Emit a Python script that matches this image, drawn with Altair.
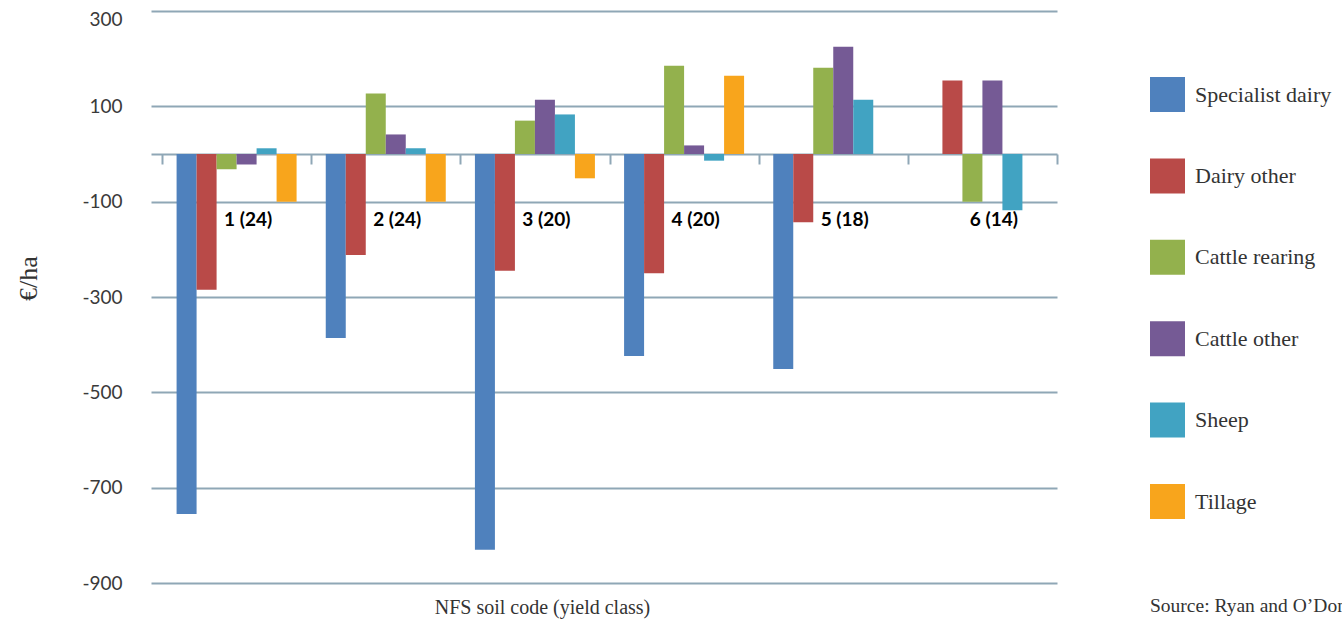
import altair as alt
import pandas as pd

# Soil code (number of yield class) categories along the x axis
soil_codes = ["1 (24)", "2 (24)", "3 (20)", "4 (20)", "5 (18)", "6 (14)"]

# Farm systems, in drawing / legend order
systems = ["Specialist dairy", "Dairy other", "Cattle rearing", "Cattle other", "Sheep", "Tillage"]
system_colors = ["#4F81BD", "#B94A48", "#93B14D", "#755A95", "#41A3C2", "#F8A51C"]

# €/ha per soil code for each system (None = no value)
specialist_dairy = [-755, -386, -830, -424, -451, None]
dairy_other = [-285, -212, -245, -250, -143, 154]
cattle_rearing = [-32, 127, 70, 185, 181, -100]
cattle_other = [-22, 41, 114, 18, 225, 154]
sheep = [12, 12, 83, -14, 114, -118]
tillage = [-100, -100, -51, 164, None, None]

y_ticks = [300, 100, -100, -300, -500, -700, -900]
source_note = "Source: Ryan and O\u2019Donovan"

series_values = [specialist_dairy, dairy_other, cattle_rearing, cattle_other, sheep, tillage]
rows = []
for name, vals in zip(systems, series_values):
    for code, v in zip(soil_codes, vals):
        if v is not None:
            rows.append({"soil": code, "system": name, "value": v})
df = pd.DataFrame(rows)

GRID = "#8FA7B6"
SERIF = "Liberation Serif"

bars = alt.Chart(df).mark_bar().encode(
    x=alt.X(
        "soil:N",
        sort=soil_codes,
        scale=alt.Scale(paddingInner=0, paddingOuter=0.0369, align=1),
        axis=alt.Axis(
            orient="bottom",
            offset=-429,
            domainColor=GRID,
            domainWidth=2,
            ticks=True,
            tickBand="extent",
            tickSize=10,
            tickColor=GRID,
            tickWidth=2,
            grid=False,
            labelAngle=0,
            labelFont="Lato",
            labelFontWeight="bold",
            labelFontSize=19,
            labelColor="#000000",
            labelPadding=46,
            labelOffset=11,
            title="NFS soil code (yield class)",
            titleFont=SERIF,
            titleFontSize=20,
            titleFontWeight="normal",
            titleColor="#333333",
            titleX=391,
            titleY=453,
            titleAlign="center",
            titleBaseline="middle",
        ),
    ),
    xOffset=alt.XOffset(
        "system:N",
        sort=systems,
        scale=alt.Scale(domain=systems, paddingInner=0, paddingOuter=0.729),
    ),
    y=alt.Y(
        "value:Q",
        scale=alt.Scale(domain=[-900, 300], nice=False, zero=False),
        axis=alt.Axis(
            values=y_ticks,
            domain=False,
            ticks=False,
            grid=True,
            gridColor=GRID,
            gridWidth=2,
            labelExpr="toString(datum.value)",
            labelFont="Lato",
            labelFontSize=19,
            labelColor="#3A3A3A",
            labelPadding=29,
            labelOffset=alt.expr("datum.value == 300 ? 8 : 0"),
            title="\u20ac/ha",
            titleFont=SERIF,
            titleFontSize=26,
            titleFontWeight="normal",
            titleColor="#333333",
            titleAngle=270,
            titleX=-123,
            titleY=267,
            titleAlign="center",
            titleBaseline="middle",
        ),
    ),
    color=alt.Color(
        "system:N",
        sort=systems,
        scale=alt.Scale(domain=systems, range=system_colors),
        legend=alt.Legend(
            title=None,
            orient="none",
            legendX=999,
            legendY=66,
            symbolType="square",
            symbolSize=1225,
            symbolStrokeWidth=0,
            symbolOpacity=1,
            rowPadding=46.4,
            labelOffset=10,
            labelFont=SERIF,
            labelFontSize=22,
            labelColor="#333333",
            labelLimit=400,
            padding=0,
        ),
    ),
)

note = alt.Chart(pd.DataFrame({"t": [source_note]})).mark_text(
    align="left", baseline="middle", font=SERIF, fontSize=19.5, color="#333333"
).encode(text="t:N", x=alt.value(999), y=alt.value(595))

chart = alt.layer(bars, note).properties(
    width=906,
    height=572,
    padding={"left": 151, "top": 11, "right": 285, "bottom": 40},
    autosize=alt.AutoSizeParams(type="none"),
).configure_view(strokeWidth=0)

chart.save("out.html", embed_options={"renderer": "svg", "actions": False})
